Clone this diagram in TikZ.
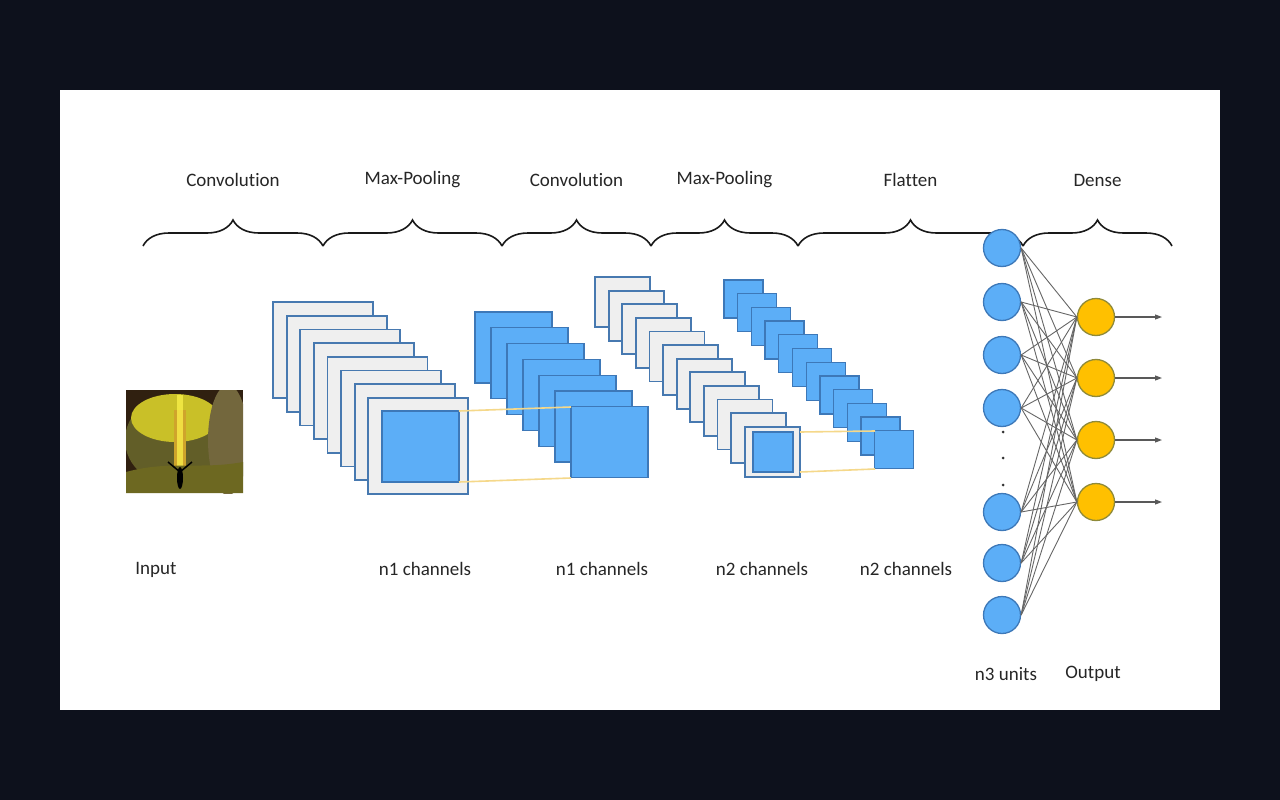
\documentclass[tikz,border=0pt]{standalone}
\usepackage{fontspec}
\setmainfont{Carlito}[Ligatures=NoCommon]
\usetikzlibrary{decorations.pathreplacing,arrows.meta}
\definecolor{bg}{HTML}{0D111C}
\definecolor{bfill}{HTML}{5CAEF7}
\definecolor{bline}{HTML}{3D78B8}
\definecolor{gfill}{HTML}{EFEFEF}
\definecolor{ofill}{HTML}{FFC000}
\definecolor{oline}{HTML}{8F8A3A}
\definecolor{yl}{HTML}{F5D88A}
\tikzset{
  gray frame/.style={draw=bline!85!gray,fill=gfill,line width=1.8pt},
  blue frame/.style={draw=bline,fill=bfill,line width=1.3pt},
  lbl/.style={font=\fontsize{19}{21}\selectfont,text=black!85},
  bluen/.style={circle,draw=bline,fill=bfill,line width=1.3pt,minimum width=37pt,inner sep=0pt},
  orn/.style={circle,draw=oline,fill=ofill,line width=1.3pt,minimum width=37pt,inner sep=0pt},
  br/.style={decorate,decoration={brace,amplitude=26pt,aspect=0.5},line width=1.6pt,black!90},
  conn/.style={draw=black!60,line width=0.9pt},
  guide/.style={draw=yl,line width=1.6pt}
}
\begin{document}
\begin{tikzpicture}[x=1pt,y=-1pt]
\useasboundingbox (0,0) rectangle (1280,800);
\fill[bg] (0,0) rectangle (1280,800);
\fill[white] (60,90) rectangle (1220,710);
% braces
\foreach \a/\b/\t/\n in {143/323/Convolution/b1,323/502/Max-Pooling/b2,502/651/Convolution/b3,651/798/Max-Pooling/b4,798/1023/Flatten/b5,1023/1172/Dense/b6}{
  \draw[br] (\a,246) -- (\b,246);
  \node[lbl] (\n) at ({(\a+\b)/2},180) {\t};
}
% input image
\begin{scope}
\clip (126,390) rectangle (243,493);
\fill[black!75!brown] (126,390) rectangle (243,493);
\fill[olive!60!black] (175,440) ellipse (50 and 45);
\fill[yellow!40!olive!80!white] (175,418) ellipse (44 and 24);
\fill[olive!50!brown!60!black] (228,440) ellipse (20 and 55);
\fill[yellow!50!orange!80!black] (174,410) rectangle (186,470);
\fill[yellow!70!white,opacity=0.7] (177,395) rectangle (183,470);
\fill[olive!70!black] (126,472) .. controls (170,460) and (200,470) .. (243,462) -- (243,493) -- (126,493) -- cycle;
\fill[black] (180,478) ellipse (3 and 11);
\draw[black,line width=1.5pt] (168,462) -- (180,472) -- (192,462);
\end{scope}
% stack 1
\foreach \i in {0,...,7}{
  \draw[gray frame] ({273+\i*13.6},{302+\i*13.7}) rectangle ++(100,96);
}
\draw[blue frame] (382,411) rectangle (459,482);
% stack 2
\foreach \i in {0,...,6}{
  \draw[blue frame] ({475+\i*16},{312+\i*15.8}) rectangle ++(77,71);
}
\draw[guide] (459,411) -- (571,407);
\draw[guide] (459,482) -- (571,478);
% stack 3
\foreach \i in {0,...,11}{
  \draw[gray frame] ({595+\i*13.6},{277+\i*13.6}) rectangle ++(55,50);
}
\draw[blue frame] (753,432) rectangle (793,472);
% stack 4
\foreach \i in {0,...,11}{
  \draw[blue frame] ({724+\i*13.7},{280+\i*13.7}) rectangle ++(39,38);
}
\draw[guide] (800,432) -- (875,431);
\draw[guide] (800,472) -- (875,469);
% dense
\foreach \y [count=\k] in {248,302,355,408,512,563,615}{\node[bluen] (i\k) at (1002,\y) {};}
\foreach \y [count=\k] in {317,378,440,502}{\node[orn] (o\k) at (1096,\y) {};}
\foreach \y [count=\k] in {432,458,485}{\fill[black!80] (1003,\y) circle (1.5) coordinate (d\k);}
\foreach \a in {1,...,7}{\foreach \b in {1,...,4}{\draw[conn] (i\a.east) -- (o\b.west);}}
\foreach \b/\y in {1/317,2/378,3/440,4/502}{
  \coordinate (e\b) at (1162,\y);
  \draw[black!65,line width=1.1pt,-{Triangle[length=7pt,width=5pt]}] (o\b.east) -- (e\b);
}
% bottom labels
\node[lbl] (l1) at (156,570) {Input};
\node[lbl] (l2) at (425,569) {n1 channels};
\node[lbl] (l3) at (602,569) {n1 channels};
\node[lbl] (l4) at (762,569) {n2 channels};
\node[lbl] (l5) at (906,569) {n2 channels};
\node[lbl] (l6) at (1006,674) {n3 units};
\node[lbl] (l7) at (1093,674) {Output};
\end{tikzpicture}
\end{document}
